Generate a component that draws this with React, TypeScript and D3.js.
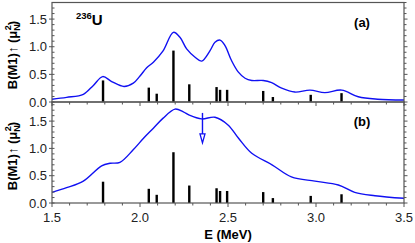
import React from 'react';
import * as d3 from 'd3';

// discrete B(M1) transitions (same in both panels)
const levelE = [1.79, 2.05, 2.095, 2.19, 2.28, 2.435, 2.455, 2.495, 2.7, 2.755, 2.97, 3.145];
const levelB = [0.39, 0.26, 0.15, 0.93, 0.32, 0.27, 0.22, 0.22, 0.2, 0.09, 0.13, 0.16];

// smoothed strength, panel (a)
const curveAE = [1.5, 1.583, 1.678, 1.735, 1.788, 1.839, 1.909, 1.962, 2.0, 2.038, 2.076, 2.13, 2.19, 2.227, 2.265, 2.313, 2.35, 2.398, 2.426, 2.455, 2.483, 2.52, 2.559, 2.597, 2.635, 2.7, 2.748, 2.805, 2.88, 2.966, 3.05, 3.146, 3.24, 3.35, 3.5];
const curveAB = [0.05, 0.084, 0.14, 0.3, 0.46, 0.37, 0.28, 0.34, 0.47, 0.62, 0.72, 0.92, 1.26, 1.17, 0.96, 0.81, 0.74, 0.93, 1.08, 1.12, 1.02, 0.75, 0.54, 0.43, 0.39, 0.39, 0.35, 0.25, 0.18, 0.215, 0.17, 0.215, 0.095, 0.05, 0.035];

// smoothed strength, panel (b)
const curveBE = [1.5, 1.583, 1.678, 1.782, 1.83, 1.886, 1.96, 2.02, 2.076, 2.13, 2.199, 2.246, 2.28, 2.35, 2.426, 2.5, 2.56, 2.635, 2.75, 2.86, 2.994, 3.127, 3.22, 3.335, 3.5];
const curveBB = [0.196, 0.28, 0.4, 0.68, 0.727, 0.745, 0.97, 1.185, 1.37, 1.55, 1.72, 1.67, 1.61, 1.54, 1.57, 1.43, 1.185, 0.91, 0.7, 0.48, 0.4, 0.33, 0.196, 0.134, 0.086];

const arrowE = 2.355;
const arrowFrom = 1.65;
const arrowTo = 1.1;

const xTicks = [1.5, 2.0, 2.5, 3.0, 3.5];
const yTicks = [0.0, 0.5, 1.0, 1.5];

const font = 'Liberation Sans, Arial, Helvetica, sans-serif';
const axisCol = '#555';
const blue = '#1010f2';

const x = d3.scaleLinear().domain([1.5, 3.5]).range([52, 404]);
const yA = d3.scaleLinear().domain([0, 1.8]).range([102, 2.5]);
const yB = d3.scaleLinear().domain([0, 1.85]).range([203, 102]);

const Panel: React.FC<{ y: d3.ScaleLinear<number, number>; es: number[]; bs: number[]; label: string; titleY: number; showX: boolean }> = ({ y, es, bs, label, titleY, showX }) => {
  const [y0, y1] = y.range();
  const line = d3.line<number>()
    .x((_, i) => x(es[i]))
    .y((b) => y(b))
    .curve(d3.curveCatmullRom.alpha(0.5));
  const minorX = d3.range(15, 36).map((v) => v / 10);
  const minorY = d3.range(0, Math.floor(y.domain()[1] * 10) + 1).map((v) => v / 10);
  return (
    <g>
      {levelE.map((e, i) => (
        <rect key={i} x={x(e) - 1.2} width={2.4} y={y(levelB[i])} height={y0 - y(levelB[i])} fill="#000" />
      ))}
      <path d={line(bs) ?? ''} fill="none" stroke={blue} strokeWidth={1.4} />
      <rect x={x(1.5)} y={y1} width={x(3.5) - x(1.5)} height={y0 - y1} fill="none" stroke={axisCol} strokeWidth={1.2} />
      {minorX.map((v, i) => {
        const major = Math.abs(v * 2 - Math.round(v * 2)) < 1e-6;
        return <line key={i} x1={x(v)} x2={x(v)} y1={y0} y2={y0 + (major ? 4 : 2.5)} stroke={axisCol} strokeWidth={1} />;
      })}
      {minorY.map((v, i) => {
        const major = Math.abs(v * 2 - Math.round(v * 2)) < 1e-6;
        return (
          <g key={i}>
            <line x1={x(1.5) - (major ? 3 : 0)} x2={x(1.5) + 2.5} y1={y(v)} y2={y(v)} stroke={axisCol} strokeWidth={1} />
            <line x1={x(3.5)} x2={x(3.5) + (major ? 3.5 : 2.5)} y1={y(v)} y2={y(v)} stroke={axisCol} strokeWidth={1} />
          </g>
        );
      })}
      {yTicks.map((v) => (
        <text key={v} x={47} y={y(v) + 4.5} textAnchor="end" fontSize={13} fill="#222" fontFamily={font}>{v.toFixed(1)}</text>
      ))}
      {showX && xTicks.map((v) => (
        <text key={v} x={x(v)} y={222} textAnchor="middle" fontSize={13} fill="#222" fontFamily={font}>{v.toFixed(1)}</text>
      ))}
      <text x={362} y={y1 + 24} textAnchor="middle" fontSize={13} fontWeight="bold" fontFamily={font}>{label}</text>
      <text transform={`translate(17,${titleY}) rotate(-90)`} textAnchor="middle" fontSize={13} fontWeight="bold" fontFamily={font}>
        B(M1)<tspan fontWeight="normal">↑</tspan> (μ<tspan fontSize={9} dy={3}>N</tspan><tspan fontSize={9} dx={-6} dy={-9}>2</tspan><tspan dy={6}>)</tspan>
      </text>
    </g>
  );
};

const App: React.FC = () => {
  const ax = x(arrowE);
  const tip = yB(arrowTo);
  return (
    <svg width={415} height={243} style={{ position: 'absolute', left: 0, top: 0, background: '#fff' }}>
      <Panel y={yA} es={curveAE} bs={curveAB} label="(a)" titleY={55} showX={false} />
      <Panel y={yB} es={curveBE} bs={curveBB} label="(b)" titleY={156} showX={true} />
      <line x1={ax} x2={ax} y1={yB(arrowFrom)} y2={tip - 9} stroke={blue} strokeWidth={1.4} />
      <path d={`M${ax - 2.5},${tip - 9} L${ax + 2.5},${tip - 9} L${ax},${tip} Z`} fill="#fff" stroke={blue} strokeWidth={1.3} />
      <text x={76} y={25} fontFamily={font} fontWeight="bold">
        <tspan fontSize={9.5} dy={-6.5}>236</tspan><tspan fontSize={15} dy={6.5}>U</tspan>
      </text>
      <text x={x(2.5)} y={239} textAnchor="middle" fontSize={13} fontWeight="bold" fontFamily={font}>E (MeV)</text>
    </svg>
  );
};

export default App;
